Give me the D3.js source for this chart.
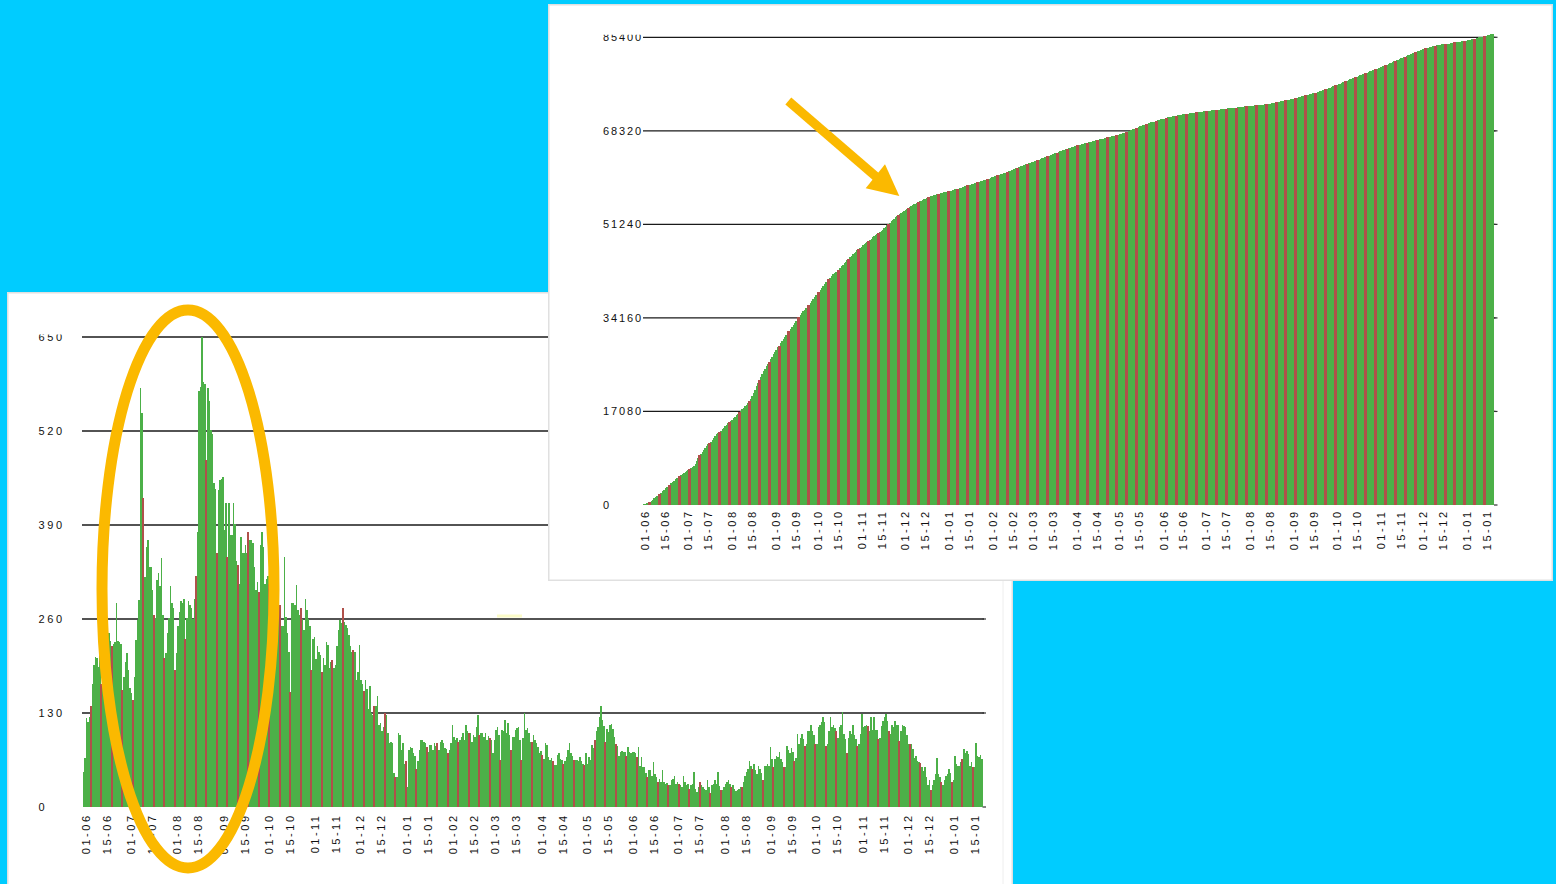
<!DOCTYPE html>
<html><head><meta charset="utf-8">
<script src="https://cdn.jsdelivr.net/npm/d3@7"></script>
<style>html,body{margin:0;padding:0;background:#00ccff;overflow:hidden}</style>
</head><body>
<svg id="c" width="1556" height="884"></svg>
<script>
// ---------- DATA ----------
const startDate = "2010-06-01";
// daily counts, one row per week (row starts on a Tuesday; 6th value = Sunday)
const dailyValues = [
  49, 68,123,118,125,139,170,
 196,208,206,194,231,170,244,
 250,277,247,240,230,222,226,
 228,282,230,228,225,162,180,
 201,213,190,165,157,148,180,
 231,259,286,579,545,427,318,
 360,369,332,332,300,265,262,
 314,323,305,344,265,206,213,
 240,262,305,282,275,190,213,
 250,270,285,282,288,233,262,
 285,280,275,260,288,319,381,
 575,581,650,588,585,480,579,
 561,521,516,448,440,351,438,
 452,454,457,383,420,346,420,
 376,376,420,391,340,335,309,
 374,351,351,362,351,381,369,
 369,365,332,300,311,298,362,
 381,360,309,316,319,309,350,
 370,340,350,330,300,280,250,
 250,346,263,240,215,159,282,
 282,280,307,272,265,275,260,
 245,287,272,260,250,190,233,
 235,205,222,215,210,187,206,
 196,228,224,192,200,203,192,
 196,222,245,259,254,275,256,
 252,247,238,222,215,217,215,
 176,187,224,176,170,160,176,
 163,136,167,130,127,140,139,
 153,113,116,105,110,130,127,
 102, 88, 90, 88, 47, 42, 42,
 102,100, 79, 88, 60, 63, 28,
  79, 83, 81, 74, 70, 53, 63,
  79, 93, 93, 90, 88, 83, 76,
  86, 86, 79, 88, 85, 89, 79,
  90, 93, 88, 81, 80, 74, 79,
  88,113, 97, 93, 95, 90, 93,
  97,102, 93,113,105,102,102,
  90,100, 97,111,127,100,102,
 102, 97,102, 93, 98, 95, 93,
  74, 93,107,111,100, 65,107,
 105,120,102,116,100, 79, 97,
  97,107,109,111, 93, 65, 95,
 130,107,109,102, 90, 90,100,
  93, 88, 83, 74, 78, 72, 67,
  88, 86, 69, 65, 68, 63, 58,
  58, 72, 74, 67, 65, 60, 63,
  69, 79, 88, 74, 70, 65, 65,
  65, 63, 69, 63, 60, 58, 74,
  60, 69, 65, 86, 81, 93,105,
 111,125,140,120,112, 90,108,
 104,113,115,108, 97, 87, 85,
  71, 76, 78, 76, 76, 71, 83,
  76, 74, 76, 76, 75, 69, 83,
  57, 69, 55, 55, 47, 41, 51,
  51, 43, 62, 46, 42, 34, 39,
  34, 51, 34, 32, 33, 30, 30,
  37, 39, 43, 32, 35, 32, 30,
  27, 43, 34, 30, 32, 25, 30,
  32, 48, 25, 21, 27, 34, 30,
  27, 25, 23, 37, 27, 19, 30,
  32, 37, 32, 48, 29, 23, 23,
  27, 32, 34, 37, 32, 27, 30,
  25, 22, 23, 25, 27, 28, 34,
  43, 48, 53, 64, 57, 53, 60,
  51, 46, 57, 52, 47, 37, 57,
  57, 60, 57, 83, 66, 55, 66,
  71, 69, 76, 66, 62, 55, 55,
  84, 79, 75, 82, 76, 63, 68,
 101, 87, 96,101, 94, 84, 87,
 105,105,114,105, 99, 87, 87,
 110,114,117,124,117, 84, 87,
 105,124,110,114,109,105, 96,
 110,114,131,101, 94, 75, 96,
 105,101,114, 99, 94, 84, 87,
 101,128,110,112,114,112,105,
 124,107,124,107,107, 94, 96,
 112,119,124,128,119,105,101,
 114,110,119,114,114, 91,105,
 114,112,110, 99, 87, 87, 87,
  80, 68, 71, 64, 62, 61, 55,
  50, 55, 41, 30, 37, 23, 30,
  38, 46, 68, 46, 42, 34, 30,
  38, 43, 46, 52, 47, 34, 38,
  71, 59, 57, 57, 62, 66, 80,
  75, 78, 73, 57, 62, 55, 55,
  89, 71, 69, 72, 67
];
const dailyTicks = [0, 130, 260, 390, 520, 650];
const cumulativeTicks = [0, 17080, 34160, 51240, 68320, 85400];

// ---------- DERIVED ----------
const t0 = d3.timeParse("%Y-%m-%d")(startDate);
const dates = dailyValues.map((v, i) => d3.timeDay.offset(t0, i));
const cumulativeValues = Array.from(d3.cumsum(dailyValues));
const fmt = d3.timeFormat("%d-%m");

const GREEN = "#4cb048", RED = "#b0504a", ORANGE = "#fbb900";
const svg = d3.select("#c");
svg.append("rect").attr("width", 1556).attr("height", 884).attr("fill", "#00ccff");

function panel(x, y, w, h) {
  svg.append("rect").attr("x", x + 0.75).attr("y", y + 0.75)
    .attr("width", w - 1.5).attr("height", h - 1.5)
    .attr("fill", "#fff").attr("stroke", "#e0e0e0").attr("stroke-width", 1.5);
}

let clipId = 0;
function chart(c) {
  const g = svg.append("g");
  const N = c.values.length;
  const x = d3.scaleBand().domain(d3.range(N)).range([c.x0, c.x1]).padding(0);
  const y = d3.scaleLinear().domain([0, d3.max(c.ticks)]).range([c.yBottom, c.yTop]);

  // gridlines
  g.selectAll("line.grid").data(c.ticks.filter(t => t > 0)).join("line")
    .attr("x1", c.lineX0).attr("x2", x.range()[1] + 1.5)
    .attr("y1", t => y(t)).attr("y2", t => y(t))
    .attr("stroke", "#1a1a1a").attr("stroke-width", 1.3);
  // right ticks
  g.selectAll("line.rt").data(c.ticks).join("line")
    .attr("x1", x.range()[1]).attr("x2", x.range()[1] + 3.5)
    .attr("y1", t => y(t)).attr("y2", t => y(t))
    .attr("stroke", "#333").attr("stroke-width", 1.2);

  // y labels
  const maxT = d3.max(c.ticks);
  const id = "clip" + (clipId++);
  svg.append("defs").append("clipPath").attr("id", id).append("rect")
    .attr("x", c.labelX - 5).attr("y", y(maxT) - 2.6).attr("width", 80).attr("height", 14);
  g.selectAll("text.yl").data(c.ticks).join("text")
    .attr("x", c.labelX).attr("y", t => y(t) + 4)
    .attr("clip-path", t => t === maxT ? `url(#${id})` : null)
    .attr("font-family", "Liberation Sans, Arial, sans-serif").attr("font-size", 11)
    .attr("letter-spacing", c.ySpacing).attr("fill", "#111")
    .text(t => t);

  // bars: weekday bars first, Sunday bars on top (drawn a bit wider)
  const all = d3.range(N);
  const bars = g.append("g").attr("shape-rendering", "crispEdges");
  bars.selectAll("rect.wd").data(all.filter(i => dates[i].getDay() !== 0)).join("rect")
    .attr("x", i => x(i)).attr("width", x.bandwidth() + 0.3)
    .attr("y", i => y(c.values[i])).attr("height", i => c.yBottom - y(c.values[i]))
    .attr("fill", GREEN);
  bars.selectAll("rect.su").data(all.filter(i => dates[i].getDay() === 0)).join("rect")
    .attr("x", i => x(i) + x.bandwidth() / 2 - c.redW / 2).attr("width", c.redW)
    .attr("y", i => y(c.values[i])).attr("height", i => c.yBottom - y(c.values[i]))
    .attr("fill", RED);

  // x labels
  const idx = all.filter(i => dates[i].getDate() === 1 || dates[i].getDate() === 15);
  g.selectAll("text.xl").data(idx).join("text")
    .attr("transform", i => `translate(${x(i) + x.bandwidth() / 2 + 6.5},${c.labelTop + 2.5}) rotate(-90)`)
    .attr("text-anchor", "end")
    .attr("font-family", "Liberation Sans, Arial, sans-serif").attr("font-size", 11)
    .attr("letter-spacing", 2.5).attr("fill", "#111")
    .text(i => fmt(dates[i]));
}

// ---------- BOTTOM PANEL (daily) ----------
panel(7, 292, 1006, 600);
svg.append("line").attr("x1", 1003).attr("x2", 1003).attr("y1", 293).attr("y2", 884)
  .attr("stroke", "#eeeeee").attr("stroke-width", 1);
chart({
  values: dailyValues, ticks: dailyTicks,
  x0: 82.5, x1: 982.5, yBottom: 807, yTop: 337,
  lineX0: 82, labelX: 38.5, ySpacing: 2.6, labelTop: 811, redW: 2
});
svg.append("rect").attr("x", 497).attr("y", 614.5).attr("width", 25).attr("height", 3)
  .attr("fill", "#fbfbc8");
// ellipse annotation
svg.append("ellipse").attr("cx", 188).attr("cy", 589).attr("rx", 86).attr("ry", 279)
  .attr("fill", "none").attr("stroke", ORANGE).attr("stroke-width", 11);

// ---------- TOP PANEL (cumulative) ----------
panel(548, 4, 1005, 577);
chart({
  values: cumulativeValues, ticks: cumulativeTicks,
  x0: 642, x1: 1494, yBottom: 505, yTop: 37.3,
  lineX0: 643, labelX: 603, ySpacing: 1.9, labelTop: 507, redW: 3
});

// arrow annotation
svg.append("line").attr("x1", 788.3).attr("y1", 101).attr("x2", 877).attr("y2", 177.5)
  .attr("stroke", ORANGE).attr("stroke-width", 9);
svg.append("polygon").attr("points", "885,164.3 899.3,196 865.7,188.3").attr("fill", ORANGE);
</script>
</body></html>
